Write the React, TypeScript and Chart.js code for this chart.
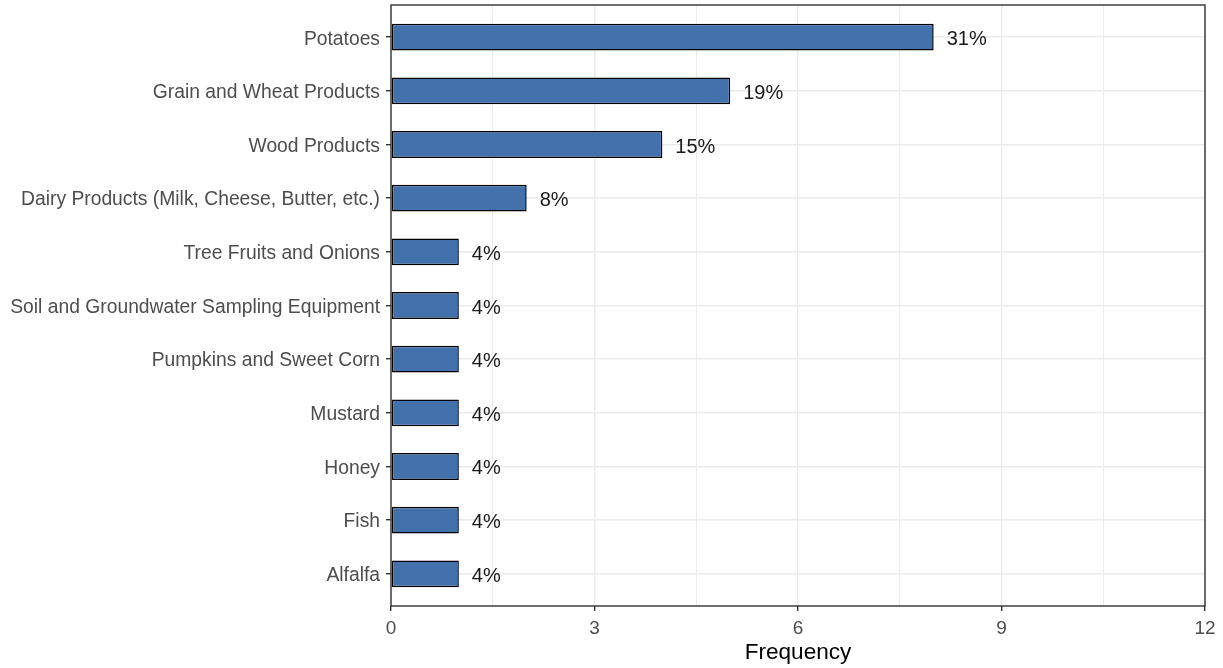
import { useEffect, useRef } from 'react';
import { Chart, registerables } from 'chart.js';

Chart.register(...registerables);

const categories = [
  'Potatoes',
  'Grain and Wheat Products',
  'Wood Products',
  'Dairy Products (Milk, Cheese, Butter, etc.)',
  'Tree Fruits and Onions',
  'Soil and Groundwater Sampling Equipment',
  'Pumpkins and Sweet Corn',
  'Mustard',
  'Honey',
  'Fish',
  'Alfalfa',
];
const counts = [8, 5, 4, 2, 1, 1, 1, 1, 1, 1, 1];
const percentLabels = ['31%', '19%', '15%', '8%', '4%', '4%', '4%', '4%', '4%', '4%', '4%'];
const xMin = 0;
const xMax = 12;
const xMajorStep = 3;
const xMinorStep = 1.5;

const FONT = "'Liberation Sans', Arial, sans-serif";

const panelBorder = {
  id: 'panelBorder',
  afterDraw(chart: any) {
    const { ctx, chartArea } = chart;
    ctx.save();
    ctx.strokeStyle = '#333333';
    ctx.lineWidth = 1.4;
    ctx.strokeRect(chartArea.left, chartArea.top, chartArea.right - chartArea.left, chartArea.bottom - chartArea.top);
    ctx.restore();
  },
};

const barLabels = {
  id: 'barLabels',
  afterDatasetsDraw(chart: any) {
    const { ctx } = chart;
    const meta = chart.getDatasetMeta(0);
    ctx.save();
    ctx.font = `20px ${FONT}`;
    ctx.fillStyle = '#1a1a1a';
    ctx.textAlign = 'left';
    ctx.textBaseline = 'middle';
    meta.data.forEach((bar: any, i: number) => {
      ctx.fillText(percentLabels[i], bar.x + 13, bar.y + 2.5);
    });
    ctx.restore();
  },
};

export default function App() {
  const canvasRef = useRef<HTMLCanvasElement | null>(null);

  useEffect(() => {
    document.body.style.margin = '0';
    const canvas = canvasRef.current;
    if (!canvas) return;
    const isMajor = (v: number) => Math.abs(v / xMajorStep - Math.round(v / xMajorStep)) < 1e-6;
    const chart = new Chart(canvas, {
      type: 'bar',
      data: {
        datasets: [
          {
            data: counts.map((c, i) => ({ x: c, y: i })),
            backgroundColor: '#4371AC',
            borderColor: '#000000',
            borderWidth: 1.5,
            borderSkipped: false,
            barPercentage: 0.5,
            categoryPercentage: 1.0,
          },
        ],
      },
      options: {
        indexAxis: 'y',
        animation: false,
        responsive: true,
        maintainAspectRatio: false,
        layout: { padding: { top: 5, right: 18, left: 0, bottom: 0 } },
        plugins: {
          legend: { display: false },
          tooltip: { enabled: false },
        },
        scales: {
          x: {
            type: 'linear',
            min: xMin,
            max: xMax,
            offset: false,
            afterFit: (scale: any) => {
              scale.height = 62;
              scale.paddingLeft = 0;
              scale.paddingRight = 0;
            },
            ticks: {
              stepSize: xMinorStep,
              autoSkip: false,
              maxRotation: 0,
              padding: 6,
              color: '#4d4d4d',
              font: { family: FONT, size: 19 },
              callback: (v: any) => (isMajor(Number(v)) ? String(v) : ''),
            },
            grid: {
              offset: false,
              color: '#ebebeb',
              lineWidth: (ctx: any) => (ctx.tick && isMajor(ctx.tick.value) ? 1.4 : 1.0),
              tickColor: (ctx: any) => (ctx.tick && isMajor(ctx.tick.value) ? '#333333' : 'rgba(0,0,0,0)'),
              tickWidth: 1.4,
              tickLength: 5,
            },
            border: { display: false },
            title: {
              display: true,
              text: 'Frequency',
              color: '#000000',
              font: { family: FONT, size: 22.6 },
              padding: { top: 0, bottom: 2 },
            },
          },
          y: {
            type: 'linear',
            reverse: true,
            offset: false,
            min: -0.6,
            max: categories.length - 1 + 0.6,
            afterBuildTicks: (scale: any) => {
              scale.ticks = categories.map((_, i) => ({ value: i }));
            },
            afterFit: (scale: any) => {
              scale.width = 391;
              scale.paddingTop = 0;
              scale.paddingBottom = 0;
            },
            ticks: {
              autoSkip: false,
              padding: 6,
              labelOffset: 2,
              color: '#4d4d4d',
              font: { family: FONT, size: 19.3 },
              callback: (v: any) => categories[Number(v)] ?? '',
            },
            grid: {
              offset: false,
              color: '#ebebeb',
              lineWidth: 1.4,
              tickColor: '#333333',
              tickWidth: 1.4,
              tickLength: 5,
            },
            border: { display: false },
          },
        },
      },
      plugins: [panelBorder, barLabels],
    });
    return () => chart.destroy();
  }, []);

  return (
    <div style={{ width: '1223px', height: '668px', position: 'relative' }}>
      <canvas ref={canvasRef} />
    </div>
  );
}
